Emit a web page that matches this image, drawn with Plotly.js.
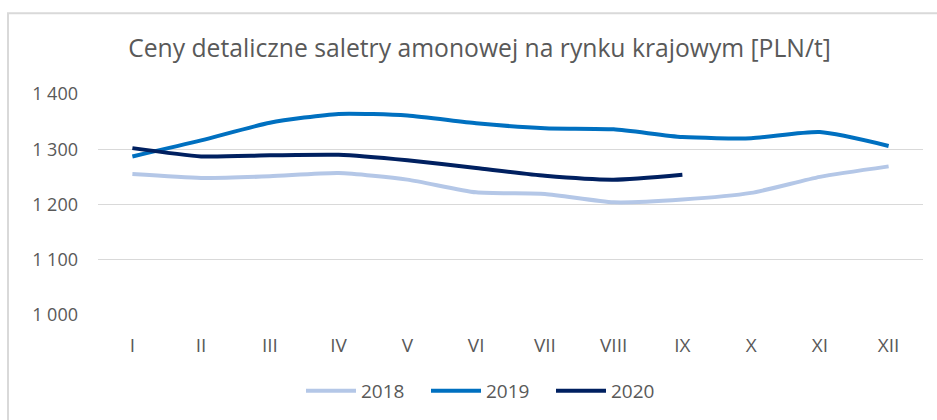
<!DOCTYPE html>
<html><head><meta charset="utf-8">
<script src="https://cdn.plot.ly/plotly-3.0.1.min.js"></script>
<style>html,body{margin:0;padding:0;background:#fff;}#chart{width:937px;height:420px;}</style>
</head><body><div id="chart"></div>
<script>
const months = ['I','II','III','IV','V','VI','VII','VIII','IX','X','XI','XII'];
const v2018 = [1255,1248,1251,1257,1245,1222,1219,1204,1209,1221,1250,1269];
const v2019 = [1287,1316,1348,1364,1361,1347,1338,1336,1322,1320,1331,1306];
const v2020 = [1302,1287,1289,1290,1280,1266,1252,1245,1254];
const seriesNames = ['2018','2019','2020'];
const colors = ['#b4c7e7','#0070c0','#002060'];
const vals = [v2018, v2019, v2020];

const traces = vals.map((v,i)=>({
  x: months.slice(0, v.length), y: v, name: seriesNames[i], type:'scatter', mode:'lines',
  line:{color:colors[i], width:4, shape:'spline', smoothing:0.6}, hoverinfo:'skip'
}));

const font = '"Open Sans", "Liberation Sans", sans-serif';
const layout = {
  width:937, height:420,
  margin:{l:98, r:14, t:94, b:104},
  paper_bgcolor:'#fff', plot_bgcolor:'#fff',
  font:{family:font, color:'#595959'},
  title:{text:'Ceny detaliczne saletry amonowej na rynku krajowym [PLN/t]', font:{size:24.7, color:'#595959', family:font},
    x:479.5/937, xref:'container', xanchor:'center', y:1-48/420, yref:'container', yanchor:'middle'},
  xaxis:{type:'category', range:[-0.5,11.5], showgrid:false, zeroline:false, showline:false, ticks:'',
    tickfont:{size:19, color:'#595959'}, ticklabelstandoff:17, fixedrange:true},
  yaxis:{range:[1000,1400], tickvals:[1000,1100,1200,1300,1400], ticktext:['1 000','1 100','1 200','1 300','1 400'],
    gridcolor:'#d9d9d9', gridwidth:1, zeroline:false, showline:false, ticks:'', tickfont:{size:18, color:'#595959'}, ticklabelstandoff:19, fixedrange:true},
  showlegend:true,
  legend:{orientation:'h', x:(301-98)/825, xanchor:'left', y:(316-391)/222, yanchor:'middle', font:{size:19, color:'#595959'},
    itemwidth:50, entrywidth:60, entrywidthmode:'pixels', traceorder:'normal'},
  shapes:[{type:'rect', xref:'paper', yref:'paper', x0:-90/825, x1:(945-98)/825, y0:(316-428)/222, y1:(316-13)/222,
    line:{color:'#d9d9d9', width:2}, fillcolor:'rgba(0,0,0,0)', layer:'below'}]
};
Plotly.newPlot('chart', traces, layout, {staticPlot:true, displayModeBar:false});
</script></body></html>
